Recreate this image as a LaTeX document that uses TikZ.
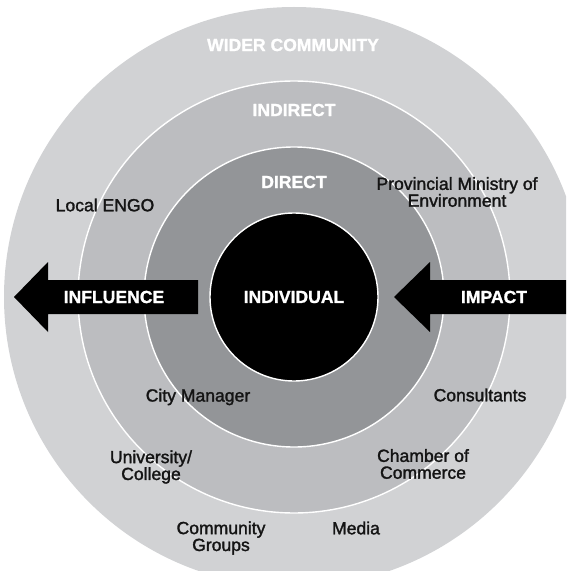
\documentclass[tikz,border=0pt]{standalone}
\usepackage{fontspec}
\setmainfont{Liberation Sans}
\newfontfamily\medfont[FakeBold=1.6]{Liberation Sans}
\newfontfamily\heavyfont[FakeBold=1.2]{Liberation Sans Bold}
\definecolor{widerc}{RGB}{209,210,212}
\definecolor{indirc}{RGB}{188,189,192}
\definecolor{dirc}{RGB}{147,149,152}
\tikzset{
  ring/.style = {draw=white, line width=0.8pt},
  hd/.style = {text=white, inner sep=0pt,
    font=\heavyfont\fontsize{10}{12}\selectfont},
  lb/.style = {text=black!92, inner sep=0pt, align=center,
    font=\medfont\fontsize{10}{9.6}\selectfont},
  seta/.style = {fill=black}
}

\begin{document}
\begin{tikzpicture}[x=0.02cm, y=-0.02cm]
  \useasboundingbox (0,0) rectangle (566,571);
  \clip (0,0) rectangle (566,571);
  % the four circles, outside in
  \coordinate (c) at (294,297);
  \fill [widerc] (c) circle [radius=290];
  \filldraw [ring, fill=indirc] (c) circle [radius=216];
  \filldraw [ring, fill=dirc] (c) circle [radius=150];
  \filldraw [ring, fill=black] (c) circle [radius=84];
  % the two arrows
  \fill [seta] (14,297) -- (48,262) -- (48,280) -- (198,280)
    -- (198,314) -- (48,314) -- (48,332) -- cycle;
  \fill [seta] (394,297) -- (430,262) -- (430,280) -- (566,280)
    -- (566,314) -- (430,314) -- (430,332) -- cycle;
  % ring headings
  \node [hd] (wid) at (293,45) {WIDER COMMUNITY};
  \node [hd] (ind) at (294,110) {INDIRECT};
  \node [hd] (dir) at (294,182) {DIRECT};
  \node [hd] (idv) at (294,297) {INDIVIDUAL};
  \node [hd] (inf) at (114,297) {INFLUENCE};
  \node [hd] (imp) at (494,297) {IMPACT};
  % actors
  \node [lb] (engo) at (105,205) {Local ENGO};
  \node [lb] (prov) at (457,192) {Provincial Ministry of\\Environment};
  \node [lb] (city) at (198,397) {City Manager};
  \node [lb] (cons) at (480,395) {Consultants};
  \node [lb] (univ) at (151,467) {University/\\College};
  \node [lb] (cham) at (423,464) {Chamber of\\Commerce};
  \node [lb] (comm) at (221,538) {Community\\Groups};
  \node [lb] (med) at (356,528) {Media};
\end{tikzpicture}
\end{document}
